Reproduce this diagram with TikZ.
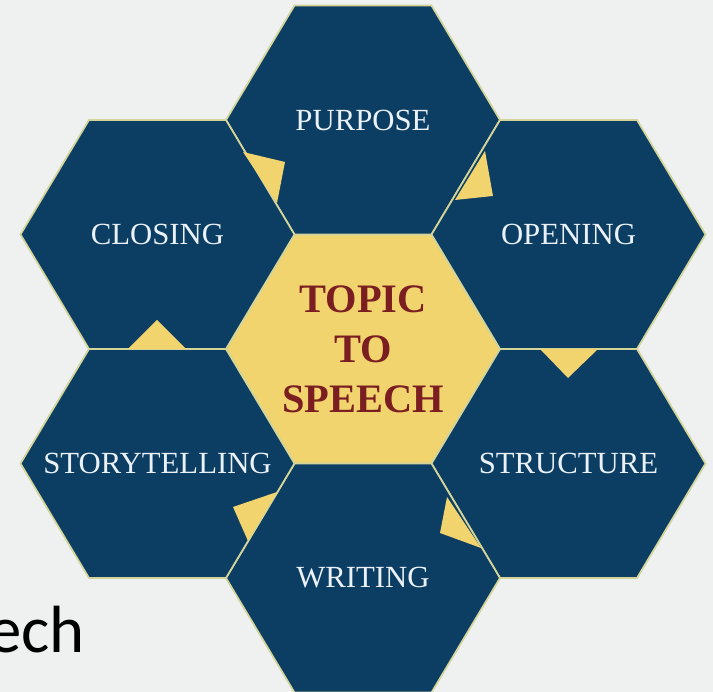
\documentclass[tikz,border=0pt]{standalone}
\usepackage{fontspec}
\setmainfont{Liberation Serif}
\newfontfamily\slidefont{Carlito}
\usetikzlibrary{positioning,backgrounds,calc}
\definecolor{HexBlue}{HTML}{0C3D62}
\definecolor{HexGold}{HTML}{F2D46E}
\definecolor{HexEdge}{HTML}{D3D49A}
\definecolor{TopicRed}{HTML}{7A1E22}
\definecolor{LabelWhite}{HTML}{EAF2F8}
\definecolor{PageGray}{HTML}{EEF1F0}

\begin{document}
\begin{tikzpicture}[
    node distance=2.29cm and 4.11cm, on grid,
    hexlabel/.style={text=LabelWhite,font=\fontsize{17.5}{21}\selectfont,
                     inner sep=0pt},
    topiclabel/.style={text=TopicRed,font=\fontsize{23}{28.4}\selectfont\bfseries,
                       align=center,inner sep=0pt},
    hexcell/.style={draw=HexEdge,line width=1pt,line join=miter},
    notch/.style={fill=HexGold}]
  \useasboundingbox (0,0) rectangle (14.26,13.84);
  \node[topiclabel] (topic) at (7.26,6.86) {TOPIC\\TO\\SPEECH};
  \node[hexlabel,above=4.58cm of topic] (purpose) {PURPOSE};
  \node[hexlabel,above right=of topic] (opening) {OPENING};
  \node[hexlabel,below right=of topic] (structure) {STRUCTURE};
  \node[hexlabel,below=4.58cm of topic] (writing) {WRITING};
  \node[hexlabel,below left=of topic] (storytelling) {STORYTELLING};
  \node[hexlabel,above left=of topic] (closing) {CLOSING};
  \node[font=\slidefont\fontsize{38}{40}\selectfont,anchor=base east,
        inner sep=0pt] (speech) at (1.70,0.78) {ech};
  \begin{scope}[on background layer]
    \fill[PageGray] (0,0) rectangle (14.26,13.84);
    \foreach \n/\c in {topic/HexGold,purpose/HexBlue,opening/HexBlue,
                       structure/HexBlue,writing/HexBlue,
                       storytelling/HexBlue,closing/HexBlue}{
      \draw[hexcell,fill=\c] (\n.center) ++(-2.74,0) -- ++(1.37,2.29)
        -- ++(2.74,0) -- ++(1.37,-2.29) -- ++(-1.37,-2.29)
        -- ++(-2.74,0) -- cycle;
    }
    % notches on the shared edges, going round clockwise
    \foreach \ax/\ay/\bx/\by/\cx/\cy in {4.86/10.80/5.54/9.78/5.70/10.60,
        9.70/10.82/9.10/9.84/9.86/9.92,
        10.80/6.86/11.96/6.86/11.36/6.28,
        8.94/3.90/9.62/2.88/8.80/3.18,
        5.54/4.00/4.96/3.02/4.66/3.70,
        2.56/6.86/3.72/6.86/3.14/7.44}{
      \fill[notch] (\ax,\ay) -- (\bx,\by) -- (\cx,\cy) -- cycle;
    }
  \end{scope}
\end{tikzpicture}
\end{document}
